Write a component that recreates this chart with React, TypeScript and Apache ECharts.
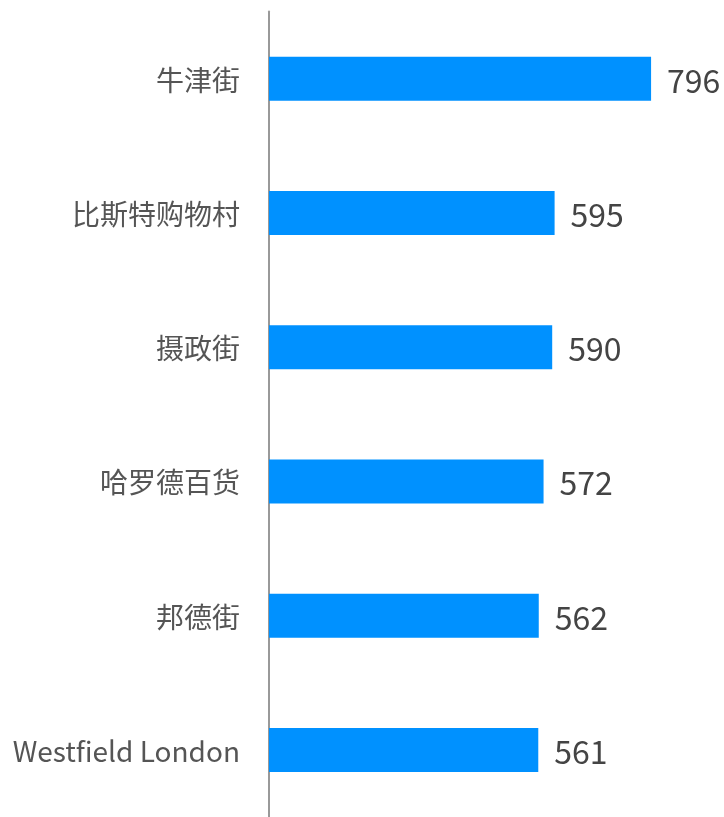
import React, { useEffect, useRef } from "react";
import * as echarts from "echarts";

const categories = ["牛津街", "比斯特购物村", "摄政街", "哈罗德百货", "邦德街", "Westfield London"];
const values = [796, 595, 590, 572, 562, 561];

export default function App() {
  const ref = useRef<HTMLDivElement>(null);
  useEffect(() => {
    if (!ref.current) return;
    const chart = echarts.init(ref.current, null, { renderer: "svg" });
    chart.setOption({
      animation: false,
      grid: { left: 269, top: 11.6, width: 384, height: 808.8 },
      xAxis: {
        type: "value",
        min: 0,
        max: 800,
        show: false,
      },
      yAxis: {
        type: "category",
        data: categories,
        inverse: true,
        axisLine: { show: true, lineStyle: { color: "#999", width: 2 } },
        axisTick: { show: false },
        axisLabel: {
          fontFamily: "Noto Sans CJK SC",
          fontSize: 28,
          color: "#555",
          margin: 29,
        },
      },
      series: [
        {
          type: "bar",
          data: values,
          barWidth: 44,
          itemStyle: { color: "#0091FF" },
          label: {
            show: true,
            position: "right",
            distance: 16,
            fontFamily: "Noto Sans CJK SC",
            fontSize: 32,
            color: "#444",
          },
        },
      ],
    });
    return () => chart.dispose();
  }, []);
  return <div ref={ref} style={{ width: 724, height: 817, position: "fixed", left: 0, top: 0 }} />;
}
